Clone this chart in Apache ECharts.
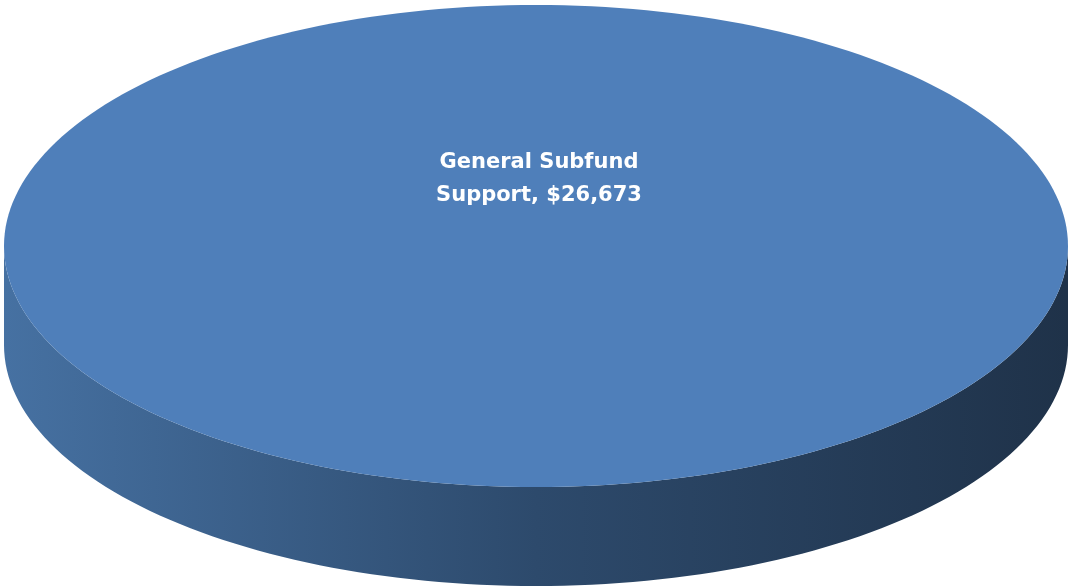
<!DOCTYPE html>
<html>
<head>
<meta charset="utf-8">
<script src="https://cdn.jsdelivr.net/npm/echarts@6/dist/echarts.min.js"></script>
<style>
  html, body { margin: 0; padding: 0; background: #fff; }
  #chart { width: 1071px; height: 588px; }
</style>
</head>
<body>
<div id="chart"></div>
<script>
// slice data
const categories = ['General Subfund Support'];
const values = [26673];

const topColors = ['#4f7fba'];
const sideStops = [
  { offset: 0, color: '#4671a2' },
  { offset: 0.5, color: '#2d4a6c' },
  { offset: 1, color: '#1f3249' }
];

var chartDom = document.getElementById('chart');
var myChart = echarts.init(chartDom, null, { renderer: 'canvas' });

var total = values.reduce(function (a, b) { return a + b; }, 0);

function ellipsePoints(cx, cy, rx, ry, a0, a1, steps) {
  let pts = [];
  for (let i = 0; i <= steps; i++) {
    let a = a0 + (a1 - a0) * i / steps;
    pts.push([cx + rx * Math.cos(a), cy + ry * Math.sin(a)]);
  }
  return pts;
}

function renderItem(params, api) {
  let w = api.getWidth();
  let cx = w * 0.5 + 0.5, cy = 246, rx = 532, ry = 241, depth = 99;
  let idx = params.dataIndex;
  let before = 0;
  for (let i = 0; i < idx; i++) before += values[i];
  let v = api.value(0);
  // angles measured clockwise on screen, starting at the top
  let a0 = -Math.PI / 2 + 2 * Math.PI * before / total;
  let a1 = a0 + 2 * Math.PI * v / total;
  let full = v >= total;
  let children = [];

  // visible front wall: part of the slice with angles in [0, PI]
  let s0 = Math.max(a0, 0), s1 = Math.min(a1, Math.PI);
  if (full) { s0 = 0; s1 = Math.PI; }
  if (s1 > s0) {
    let topEdge = ellipsePoints(cx, cy, rx, ry, s0, s1, 120);
    let botEdge = ellipsePoints(cx, cy + depth, rx, ry, s1, s0, 120);
    children.push({
      type: 'polygon',
      shape: { points: topEdge.concat(botEdge) },
      style: {
        fill: { type: 'linear', x: 0, y: 0, x2: 1, y2: 0, colorStops: sideStops }
      }
    });
  }

  // top face
  let pts = ellipsePoints(cx, cy, rx, ry, a0, a1, 240);
  if (!full) pts.push([cx, cy]);
  children.push({
    type: 'polygon',
    shape: { points: pts },
    style: { fill: topColors[idx % topColors.length] }
  });

  // label
  let mid = (a0 + a1) / 2;
  let lx = full ? cx + 3 : cx + rx * 0.55 * Math.cos(mid);
  let ly = full ? cy - 67 : cy + ry * 0.55 * Math.sin(mid);
  children.push({
    type: 'text',
    x: lx,
    y: ly,
    style: {
      text: categories[idx].replace('General Subfund ', 'General Subfund\n') + ', $' + v.toLocaleString('en-US'),
      fill: '#ffffff',
      font: 'bold 21px "DejaVu Sans"',
      align: 'center',
      verticalAlign: 'middle',
      lineHeight: 33
    }
  });

  return { type: 'group', children: children };
}

var option = {
  animation: false,
  series: [
    {
      type: 'custom',
      coordinateSystem: 'none',
      silent: true,
      renderItem: renderItem,
      data: values.map(function (v, i) { return { name: categories[i], value: [v] }; })
    }
  ]
};

myChart.setOption(option);
</script>
</body>
</html>
